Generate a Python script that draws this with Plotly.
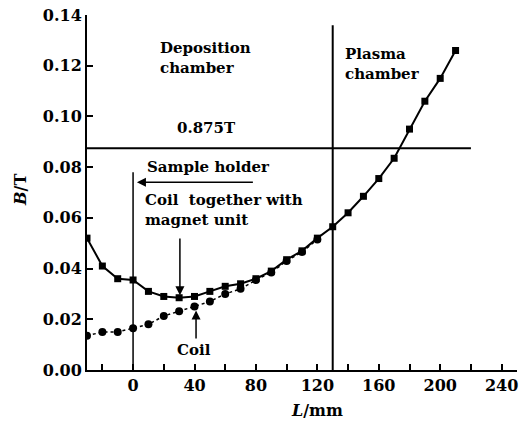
import plotly.graph_objects as go

# ---- data ----
L_total = [-30, -20, -10, 0, 10, 20, 30, 40, 50, 60, 70, 80, 90, 100, 110, 120,
           130, 140, 150, 160, 170, 180, 190, 200, 210]
B_total = [0.052, 0.041, 0.036, 0.0355, 0.031, 0.029, 0.0285, 0.029, 0.031, 0.033,
           0.034, 0.036, 0.039, 0.0435, 0.047, 0.052, 0.0565, 0.062, 0.0685, 0.0755,
           0.0835, 0.095, 0.106, 0.115, 0.126]

L_coil = [-30, -20, -10, 0, 10, 20, 30, 40, 50, 60, 70, 80, 90, 100, 110, 120]
B_coil = [0.0135, 0.015, 0.015, 0.0165, 0.018, 0.0213, 0.0232, 0.025, 0.027, 0.030,
          0.032, 0.0355, 0.0385, 0.043, 0.0465, 0.0515]

ecr_B = 0.0875          # 0.875 kG resonance line
ecr_L_end = 220
sample_L = 0
sample_top = 0.078
plasma_L = 130
plasma_top = 0.136

x_tickvals = [-20, 0, 20, 40, 60, 80, 100, 120, 140, 160, 180, 200, 220, 240]
x_ticktext = ["", "0", "", "40", "", "80", "", "120", "", "160", "", "200", "", "240"]
y_tickvals = [0.00, 0.02, 0.04, 0.06, 0.08, 0.10, 0.12, 0.14]
y_ticktext = ["0.00", "0.02", "0.04", "0.06", "0.08", "0.10", "0.12", "0.14"]

FONT = "DejaVu Serif"

fig = go.Figure()

fig.add_trace(go.Scatter(
    x=L_coil, y=B_coil, mode="lines+markers",
    line=dict(color="black", width=1.5, dash="dot"),
    marker=dict(symbol="circle", size=8, color="black"),
    showlegend=False))

fig.add_trace(go.Scatter(
    x=L_total, y=B_total, mode="lines+markers",
    line=dict(color="black", width=2),
    marker=dict(symbol="square", size=7, color="black"),
    showlegend=False))

# reference lines
fig.add_shape(type="line", x0=-30, x1=ecr_L_end, y0=ecr_B, y1=ecr_B,
              line=dict(color="black", width=2))
fig.add_shape(type="line", x0=plasma_L, x1=plasma_L, y0=0, y1=plasma_top,
              line=dict(color="black", width=2))
fig.add_shape(type="line", x0=sample_L, x1=sample_L, y0=0, y1=sample_top,
              line=dict(color="black", width=1.5))

txt = dict(family=FONT, size=15, color="black", weight="bold")

fig.add_annotation(x=16, y=0.123, text="Deposition<br>chamber", showarrow=False,
                   xanchor="left", yanchor="middle", align="left", font=txt)
fig.add_annotation(x=137, y=0.1205, text="Plasma<br>chamber", showarrow=False,
                   xanchor="left", yanchor="middle", align="left", font=txt)
fig.add_annotation(x=47.5, y=0.0953, text="0.875T", showarrow=False,
                   xanchor="center", yanchor="middle", font=txt)
fig.add_annotation(x=8, y=0.080, text="Sample holder", showarrow=False,
                   xanchor="left", yanchor="middle", font=txt)
fig.add_annotation(x=6.5, y=0.063, text="Coil  together with<br>magnet unit",
                   showarrow=False, xanchor="left", yanchor="middle", align="left",
                   font=txt)
fig.add_annotation(x=39.5, y=0.0079, text="Coil", showarrow=False,
                   xanchor="center", yanchor="middle", font=txt)

# arrows
fig.add_annotation(x=2.5, y=0.074, ax=79, ay=0.074, axref="x", ayref="y",
                   xref="x", yref="y", text="", showarrow=True,
                   arrowhead=2, arrowsize=1.2, arrowwidth=1.5, arrowcolor="black")
fig.add_annotation(x=30.5, y=0.0295, ax=30.5, ay=0.0525, axref="x", ayref="y",
                   xref="x", yref="y", text="", showarrow=True,
                   arrowhead=2, arrowsize=1.2, arrowwidth=1.5, arrowcolor="black")
fig.add_annotation(x=41, y=0.0235, ax=41, ay=0.0118, axref="x", ayref="y",
                   xref="x", yref="y", text="", showarrow=True,
                   arrowhead=2, arrowsize=1.2, arrowwidth=1.5, arrowcolor="black")

# axis titles
fig.add_annotation(x=120, y=-0.113, xref="x", yref="paper", text="<i>L</i>/mm",
                   showarrow=False, xanchor="center", yanchor="middle",
                   font=dict(family=FONT, size=16, color="black", weight="bold"))
fig.add_annotation(x=-0.156, y=0.507, xref="paper", yref="paper",
                   text="<i>B</i>/T", textangle=-90, showarrow=False,
                   xanchor="center", yanchor="middle",
                   font=dict(family=FONT, size=16, color="black", weight="bold"))

tickfont = dict(family=FONT, size=16, color="black", weight="bold")
fig.update_xaxes(range=[-30, 250], showgrid=False, zeroline=False,
                 showline=True, linecolor="black", linewidth=2,
                 ticks="inside", ticklen=6, tickwidth=1.5, tickcolor="black",
                 tickmode="array", tickvals=x_tickvals, ticktext=x_ticktext,
                 tickfont=tickfont, ticklabeloverflow="allow", automargin=False)
fig.update_yaxes(range=[0, 0.14], showgrid=False, zeroline=False,
                 showline=True, linecolor="black", linewidth=2,
                 ticks="inside", ticklen=6, tickwidth=1.5, tickcolor="black",
                 tickmode="array", tickvals=y_tickvals, ticktext=y_ticktext,
                 tickfont=tickfont, ticklabeloverflow="allow", automargin=False)

fig.update_layout(width=528, height=421,
                  margin=dict(l=87, r=11, t=15, b=51, autoexpand=False),
                  plot_bgcolor="white", paper_bgcolor="white",
                  showlegend=False)

# remove the default page margin so the figure fills the window exactly
fig.write_html("out.html",
               config={"displayModeBar": False},
               post_script="document.body.style.margin='0';"
                           "document.body.style.overflow='hidden';")
